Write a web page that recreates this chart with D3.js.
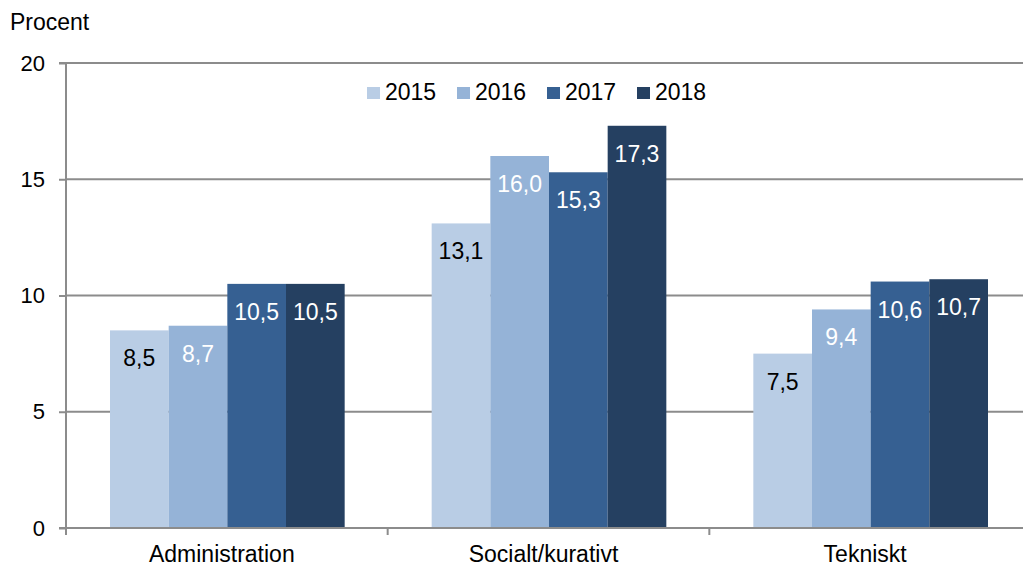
<!DOCTYPE html>
<html>
<head>
<meta charset="utf-8">
<script src="https://cdn.jsdelivr.net/npm/d3@7"></script>
<style>
  body { margin: 0; background: #fff; }
  text { font-family: "Liberation Sans", Arial, sans-serif; }
</style>
</head>
<body>
<div id="chart"></div>
<script>
// Data
const categories = ['Administration', 'Socialt/kurativt', 'Tekniskt'];
const years = ['2015', '2016', '2017', '2018'];
const values2015 = [8.5, 13.1, 7.5];
const values2016 = [8.7, 16.0, 9.4];
const values2017 = [10.5, 15.3, 10.6];
const values2018 = [10.5, 17.3, 10.7];
const yTicks = [0, 5, 10, 15, 20];

const series = [values2015, values2016, values2017, values2018];
const colors = ['#b9cde5', '#95b3d7', '#366092', '#254061'];
const labelColors = ['#000', '#fff', '#fff', '#fff'];
const fontSize = 23;

const width = 1023, height = 567;
const margin = { top: 63, right: -8, bottom: 39, left: 66 };

const svg = d3.select('#chart').append('svg')
    .attr('width', width)
    .attr('height', height);

const x0 = d3.scaleBand()
    .domain(categories)
    .range([margin.left, width - margin.right])
    .paddingInner(0)
    .paddingOuter(0);

const x1 = d3.scaleBand()
    .domain(years)
    .range([44, x0.bandwidth() - 43]);

const y = d3.scaleLinear()
    .domain([0, 20])
    .range([height - margin.bottom, margin.top]);

// Gridlines
svg.append('g')
    .selectAll('line')
    .data(yTicks.filter(d => d > 0))
    .enter().append('line')
    .attr('x1', margin.left)
    .attr('x2', width)
    .attr('y1', d => y(d))
    .attr('y2', d => y(d))
    .attr('stroke', '#8c8c8c')
    .attr('stroke-width', 2);

// Bars
const groups = svg.append('g')
    .selectAll('g')
    .data(categories)
    .enter().append('g')
    .attr('transform', d => `translate(${x0(d)},0)`);

groups.selectAll('rect')
    .data((c, ci) => years.map((yr, si) => ({ yr, si, v: series[si][ci] })))
    .enter().append('rect')
    .attr('x', d => x1(d.yr))
    .attr('width', x1.bandwidth())
    .attr('y', d => y(d.v))
    .attr('height', d => y(0) - y(d.v))
    .attr('fill', d => colors[d.si]);

groups.selectAll('text')
    .data((c, ci) => years.map((yr, si) => ({ yr, si, v: series[si][ci] })))
    .enter().append('text')
    .attr('x', d => x1(d.yr) + x1.bandwidth() / 2)
    .attr('y', d => y(d.v) + 36)
    .attr('text-anchor', 'middle')
    .attr('font-size', fontSize)
    .attr('fill', d => labelColors[d.si])
    .text(d => d.v.toFixed(1).replace('.', ','));

// Y axis
const yAxis = d3.axisLeft(y).tickValues(yTicks).tickSize(7).tickPadding(14);
const gY = svg.append('g')
    .attr('transform', `translate(${margin.left},0)`)
    .call(yAxis);
gY.select('.domain').attr('stroke', '#8c8c8c').attr('stroke-width', 2)
    .attr('d', `M-7,${y(20)}H0V${y(0)}`);
gY.selectAll('.tick line').attr('stroke', '#8c8c8c').attr('stroke-width', 2);
gY.selectAll('.tick text').attr('font-size', 22).attr('fill', '#000')
    .attr('font-family', '"Liberation Sans", Arial, sans-serif');

// X axis
svg.append('line')
    .attr('x1', margin.left - 7).attr('x2', width)
    .attr('y1', y(0)).attr('y2', y(0))
    .attr('stroke', '#8c8c8c').attr('stroke-width', 2);

svg.append('g')
    .selectAll('line')
    .data(categories)
    .enter().append('line')
    .attr('x1', d => x0(d)).attr('x2', d => x0(d))
    .attr('y1', y(0)).attr('y2', y(0) + 7)
    .attr('stroke', '#8c8c8c').attr('stroke-width', 2);

svg.append('g')
    .selectAll('text')
    .data(categories)
    .enter().append('text')
    .attr('x', d => x0(d) + x0.bandwidth() / 2 - 5)
    .attr('y', 562)
    .attr('text-anchor', 'middle')
    .attr('font-size', fontSize)
    .text(d => d);

// Y title
svg.append('text')
    .attr('x', 10).attr('y', 30)
    .attr('font-size', fontSize)
    .text('Procent');

// Legend
const legendX = [367, 457, 547, 637];
const legend = svg.append('g')
    .selectAll('g')
    .data(years)
    .enter().append('g')
    .attr('transform', (d, i) => `translate(${legendX[i]},87)`);
legend.append('rect')
    .attr('width', 13).attr('height', 12)
    .attr('fill', (d, i) => colors[i]);
legend.append('text')
    .attr('x', 18).attr('y', 13)
    .attr('font-size', fontSize)
    .text(d => d);
</script>
</body>
</html>
